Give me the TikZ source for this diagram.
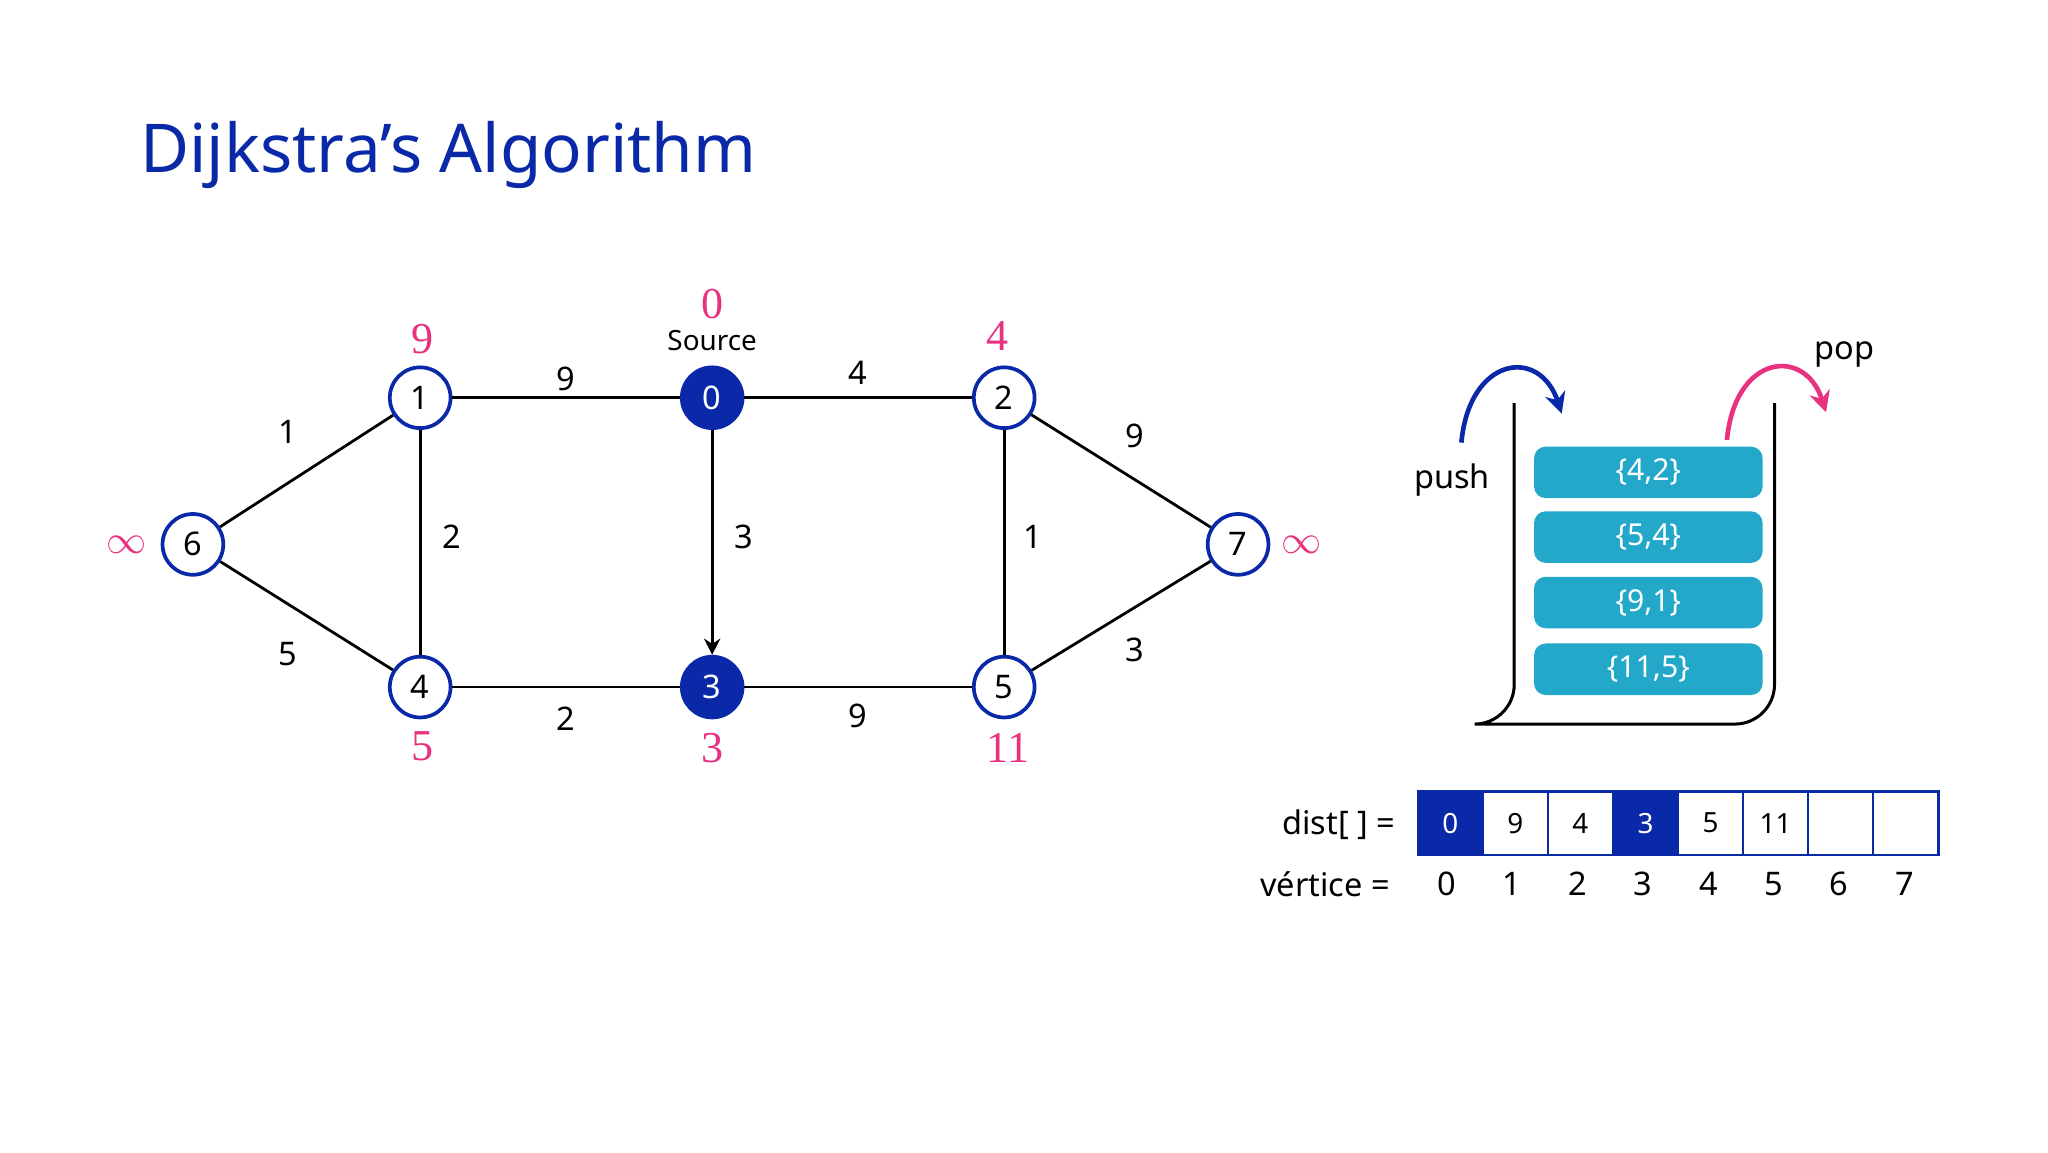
\documentclass[tikz,border=0pt]{standalone}
\usepackage{fontspec}
\setmainfont{Noto Sans}
\newfontfamily\serifn{Liberation Serif}
\usetikzlibrary{arrows.meta}
\definecolor{dblue}{HTML}{0A29A8}
\definecolor{pinkc}{HTML}{E8317F}
\definecolor{cyanb}{HTML}{24A8CA}
\begin{document}
\begin{tikzpicture}[x=0.02cm,y=-0.02cm,
  v/.style={circle,draw=dblue,line width=1.6pt,fill=white,minimum size=0.92cm,inner sep=0pt,font=\fontsize{14}{16}\selectfont},
  vs/.style={v,fill=dblue,text=white},
  e/.style={line width=1.2pt},
  wl/.style={font=\fontsize{14}{16}\selectfont},
  dl/.style={text=pinkc,font=\serifn\fontsize{19}{22}\selectfont},
  item/.style={fill=cyanb,rounded corners=5pt,minimum width=3.46cm,minimum height=0.78cm,text=white,font=\fontsize{13}{15}\selectfont},
  cell/.style={draw=dblue,line width=1pt,minimum width=0.986cm,minimum height=0.96cm,inner sep=0pt,font=\bfseries\fontsize{12}{14}\selectfont},
  idx/.style={font=\fontsize{14}{16}\selectfont}]
\useasboundingbox (0,0) rectangle (1550,872);
\node[anchor=west,text=dblue,font=\bfseries\fontsize{29}{34}\selectfont] (title) at (100,117) {Dijkstra's Algorithm};
\node[vs] (n0) at (539,301) {0};
\node[v] (n1) at (318,301) {1};
\node[v] (n2) at (760,301) {2};
\node[v] (n6) at (146,412) {6};
\node[v] (n7) at (937,412) {7};
\node[v] (n4) at (318,520) {4};
\node[vs] (n3) at (539,520) {3};
\node[v] (n5) at (760,520) {5};
\draw[e] (n1)--(n0); \draw[e] (n0)--(n2); \draw[e] (n6)--(n1); \draw[e] (n6)--(n4);
\draw[e] (n1)--(n4); \draw[e] (n2)--(n5); \draw[e] (n2)--(n7); \draw[e] (n5)--(n7);
\draw[e] (n4)--(n3); \draw[e] (n3)--(n5);
\draw[e,-{Stealth[length=7pt,width=7pt]}] (n0)--(n3);
\node[wl] (w1) at (428,287) {9}; \node[wl] (w2) at (649,282) {4};
\node[wl] (w3) at (218,327) {1}; \node[wl] (w4) at (342,406) {2};
\node[wl] (w5) at (563,406) {3}; \node[wl] (w6) at (782,406) {1};
\node[wl] (w7) at (859,330) {9}; \node[wl] (w8) at (218,495) {5};
\node[wl] (w9) at (428,544) {2}; \node[wl] (w10) at (649,542) {9};
\node[wl] (w11) at (859,492) {3};
\node[dl] (d1) at (320,257) {9}; \node[dl] (d0) at (539,230) {0};
\node[dl] (d2) at (755,254) {4}; \node[dl] (d6) at (96,412) {$\infty$};
\node[dl] (d7) at (985,412) {$\infty$}; \node[dl] (d4) at (320,565) {5};
\node[dl] (d3) at (539,566) {3}; \node[dl] (d5) at (763,566) {11};
\node[font=\fontsize{12}{14}\selectfont] (src) at (539,258) {Source};
% stack
\draw[line width=1.3pt] (1146,305) -- (1146,518) arc[start angle=180,end angle=90,x radius=-30,y radius=30] -- (1313,548) arc[start angle=270,end angle=360,x radius=30,y radius=-30] -- (1343,305);
\node[item] (s1) at (1247.5,357.5) {\{4,2\}};
\node[item] (s2) at (1247.5,406.5) {\{5,4\}};
\node[item] (s3) at (1247.5,456) {\{9,1\}};
\node[item] (s4) at (1247.5,506.5) {\{11,5\}};
\node[font=\fontsize{14}{16}\selectfont] (push) at (1099,363) {push};
\node[font=\fontsize{14}{16}\selectfont] (pop) at (1396,268) {pop};
\coordinate (pa) at (1106,335); \coordinate (pb) at (1182,313);
\coordinate (qa) at (1307,333); \coordinate (qb) at (1382,312);
\draw[dblue,line width=2pt,-{Stealth[length=9pt,width=9pt]}] (pa) .. controls (1112,270) and (1165,262) .. (pb);
\draw[pinkc,line width=2pt,-{Stealth[length=9pt,width=9pt]}] (qa) .. controls (1313,268) and (1366,262) .. (qb);
% array
\foreach \v/\i in {0/0,9/1,4/2,3/3,5/4,11/5,/6,/7}{
  \node[cell] (c\i) at (1097.6+49.25*\i,623) {\v};
}
\node[cell,fill=dblue,text=white] at (c0) {0};
\node[cell,fill=dblue,text=white] at (c3) {3};
\node[anchor=east,font=\fontsize{14}{16}\selectfont] (dist) at (1062,624) {dist[ ] =};
\node[anchor=east,font=\fontsize{14}{16}\selectfont] (vert) at (1058,669) {vértice =};
\foreach \i in {0,...,7}{ \node[idx] (i\i) at (1095+49.5*\i,669) {\i}; }
\end{tikzpicture}
\end{document}
